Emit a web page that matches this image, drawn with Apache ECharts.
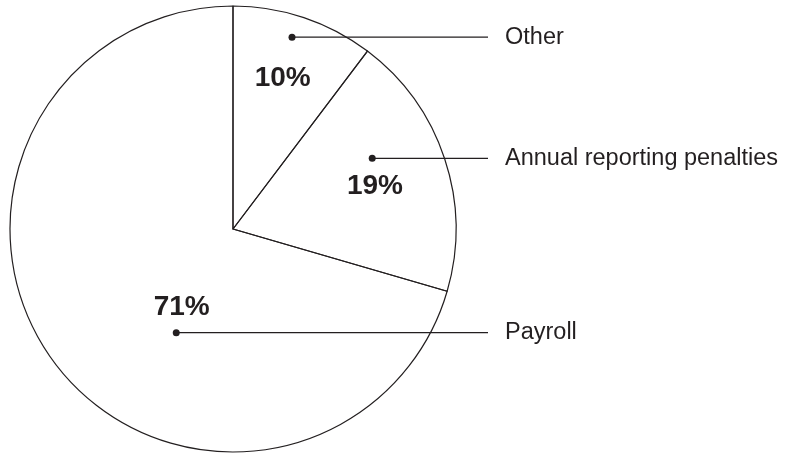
<!DOCTYPE html>
<html>
<head>
<meta charset="utf-8">
<script src="https://cdn.jsdelivr.net/npm/echarts@6/dist/echarts.min.js"></script>
<style>
html,body{margin:0;padding:0;background:#fff;}
#chart{width:789px;height:453px;}
</style>
</head>
<body>
<div id="chart"></div>
<script>
// ---- data ----
const categories = ['Other', 'Annual reporting penalties', 'Payroll'];
const values = [10.3, 19.2, 70.5];

// ---- layout (styling only) ----
const CX = 233, CY = 229, R = 223;
const INK = '#231f20';
// percent label anchors: [angle from top (deg, clockwise), fraction of radius]
const pctAnchor = [[18.2, 0.713], [73.2, 0.665], [213.2, 0.42]];
// leader dot anchors
const dotAnchor = [[17.1, 0.90], [63.1, 0.70], [208.7, 0.53]];
const LINE_END_X = 488, TEXT_X = 505;

function polar(a, f) {
  const rad = a * Math.PI / 180;
  return [CX + Math.sin(rad) * R * f, CY - Math.cos(rad) * R * f];
}

const pieData = categories.map((c, i) => ({ name: c, value: values[i] }));

const chart = echarts.init(document.getElementById('chart'), null, { renderer: 'canvas' });
chart.setOption({
  backgroundColor: '#fff',
  animation: false,
  series: [
    {
      type: 'pie',
      z: 2,
      center: [CX, CY],
      radius: [0, R],
      startAngle: 90,
      clockwise: true,
      percentPrecision: 0,
      silent: true,
      data: pieData,
      itemStyle: { color: 'rgba(255,255,255,0)', borderColor: INK, borderWidth: 1.2 },
      label: {
        show: true,
        position: 'inside',
        formatter: '{d}%',
        fontFamily: 'Liberation Sans, Arial, sans-serif',
        fontWeight: 'bold',
        fontSize: 28,
        color: INK
      },
      labelLine: { show: false },
      labelLayout: function (p) {
        const pt = polar(pctAnchor[p.dataIndex][0], pctAnchor[p.dataIndex][1]);
        return { x: pt[0], y: pt[1], align: 'center', verticalAlign: 'middle' };
      }
    },
    {
      type: 'pie',
      z: 5,
      center: [CX, CY],
      radius: [0, R],
      startAngle: 90,
      clockwise: true,
      silent: true,
      avoidLabelOverlap: false,
      data: pieData,
      itemStyle: { color: 'rgba(0,0,0,0)', borderWidth: 0 },
      label: {
        show: true,
        position: 'outside',
        formatter: '{b}',
        fontFamily: 'Liberation Sans, Arial, sans-serif',
        fontSize: 23.5,
        color: INK
      },
      labelLine: { show: true, lineStyle: { color: INK, width: 1.3 } },
      labelLayout: function (p) {
        const pt = polar(dotAnchor[p.dataIndex][0], dotAnchor[p.dataIndex][1]);
        return {
          x: TEXT_X, y: pt[1], align: 'left', verticalAlign: 'middle',
          labelLinePoints: [[pt[0], pt[1]], [LINE_END_X, pt[1]], [LINE_END_X, pt[1]]]
        };
      }
    }
  ],
  graphic: dotAnchor.map(function (d) {
    const pt = polar(d[0], d[1]);
    return { type: 'circle', shape: { cx: pt[0], cy: pt[1], r: 3.5 }, style: { fill: INK }, silent: true, z: 10 };
  })
});
</script>
</body>
</html>
